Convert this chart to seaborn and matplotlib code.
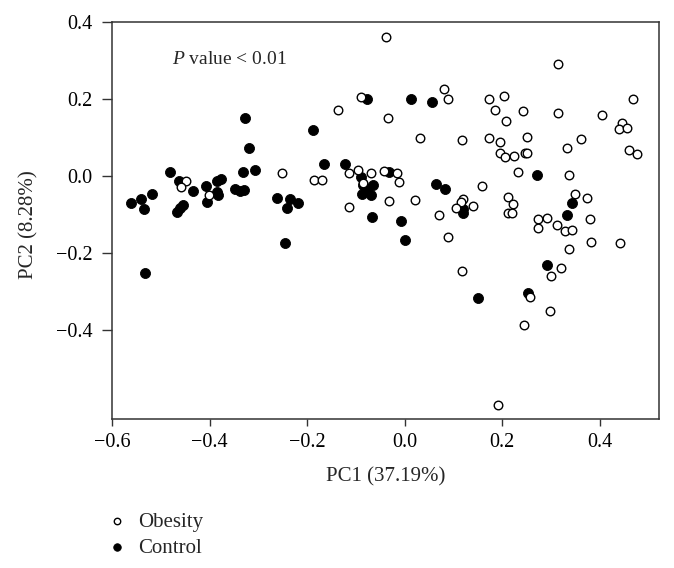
import matplotlib
matplotlib.use("Agg")
import matplotlib.pyplot as plt
import pandas as pd
import seaborn as sns

# ---- data ----
groups = ["Obesity", "Control"]

obesity_pc1 = [-0.038, -0.137, -0.090, -0.034, 0.031, 0.081, 0.089, -0.449, -0.458, -0.402,
               -0.252, -0.185, -0.169, -0.114, -0.095, -0.070, -0.086, -0.042, -0.016, -0.011,
               -0.032, 0.021, -0.115, 0.071, 0.088, 0.158, 0.120, 0.115, 0.106, 0.141,
               0.232, 0.212, 0.223, 0.212, 0.221, 0.274, 0.292, 0.274, 0.313, 0.329,
               0.342, 0.349, 0.373, 0.337, 0.380, 0.382, 0.441, 0.336, 0.320, 0.300,
               0.117, 0.256, 0.298, 0.245, 0.191, 0.315, 0.173, 0.204, 0.185, 0.242,
               0.208, 0.314, 0.404, 0.468, 0.445, 0.440, 0.455, 0.118, 0.173, 0.196,
               0.251, 0.362, 0.332, 0.195, 0.206, 0.224, 0.247, 0.251, 0.460, 0.476]
obesity_pc2 = [0.360, 0.170, 0.204, 0.150, 0.097, 0.224, 0.198, -0.014, -0.029, -0.050,
               0.007, -0.011, -0.011, 0.008, 0.014, 0.008, -0.019, 0.012, 0.008, -0.016,
               -0.066, -0.062, -0.080, -0.102, -0.158, -0.026, -0.059, -0.067, -0.083, -0.078,
               0.010, -0.054, -0.072, -0.095, -0.095, -0.113, -0.109, -0.134, -0.128, -0.142,
               -0.141, -0.047, -0.057, 0.002, -0.113, -0.172, -0.173, -0.189, -0.239, -0.259,
               -0.246, -0.314, -0.350, -0.387, -0.593, 0.289, 0.198, 0.208, 0.170, 0.168,
               0.142, 0.163, 0.159, 0.199, 0.136, 0.122, 0.125, 0.094, 0.099, 0.088,
               0.101, 0.096, 0.072, 0.059, 0.049, 0.052, 0.060, 0.060, 0.067, 0.057]

control_pc1 = [-0.327, -0.320, -0.561, -0.541, -0.535, -0.518, -0.532, -0.482, -0.462, -0.433,
               -0.466, -0.461, -0.455, -0.408, -0.405, -0.385, -0.383, -0.384, -0.376, -0.348,
               -0.337, -0.330, -0.332, -0.307, -0.262, -0.235, -0.218, -0.242, -0.245, -0.187,
               -0.165, -0.122, -0.078, 0.012, 0.057, -0.090, -0.085, -0.064, -0.088, -0.070,
               -0.078, -0.032, -0.068, -0.008, 0.001, 0.064, 0.082, 0.119, 0.120, 0.272,
               0.344, 0.333, 0.291, 0.253, 0.150]
control_pc2 = [0.149, 0.072, -0.071, -0.059, -0.085, -0.046, -0.252, 0.010, -0.013, -0.039,
               -0.093, -0.084, -0.076, -0.027, -0.067, -0.041, -0.050, -0.013, -0.008, -0.033,
               -0.038, -0.036, 0.010, 0.014, -0.056, -0.059, -0.071, -0.084, -0.173, 0.118,
               0.030, 0.032, 0.198, 0.200, 0.192, -0.003, -0.024, -0.024, -0.048, -0.049,
               -0.033, 0.011, -0.106, -0.118, -0.166, -0.020, -0.034, -0.087, -0.096, 0.003,
               -0.070, -0.102, -0.231, -0.304, -0.316]

x_ticks = [-0.6, -0.4, -0.2, 0.0, 0.2, 0.4]
y_ticks = [-0.4, -0.2, 0.0, 0.2, 0.4]
x_label = "PC1 (37.19%)"
y_label = "PC2 (8.28%)"
annotation = r"$\mathit{P}$ value < 0.01"

# ---- style ----
sns.set_style("ticks")
plt.rcParams["font.family"] = ["Liberation Serif", "DejaVu Serif"]
plt.rcParams["mathtext.fontset"] = "custom"
plt.rcParams["mathtext.it"] = "Liberation Serif:italic"
plt.rcParams["mathtext.rm"] = "Liberation Serif"
plt.rcParams["axes.unicode_minus"] = True

df = pd.concat([
    pd.DataFrame({"PC1": obesity_pc1, "PC2": obesity_pc2, "group": groups[0]}),
    pd.DataFrame({"PC1": control_pc1, "PC2": control_pc2, "group": groups[1]}),
], ignore_index=True)

fig = plt.figure(figsize=(6.74, 5.68), dpi=100)
ax = fig.add_axes([0.1662, 0.2623, 0.812, 0.6998])

spine_col = "#333333"

sns.scatterplot(data=df[df.group == "Control"], x="PC1", y="PC2", ax=ax,
                marker="o", s=52, color="black", edgecolor="black",
                linewidth=0.6, label="Control", zorder=2)
sns.scatterplot(data=df[df.group == "Obesity"], x="PC1", y="PC2", ax=ax,
                marker="o", s=38, color="white", edgecolor="black",
                linewidth=1.0, label="Obesity", zorder=3)
ax.collections[1].set_facecolor("white")
ax.collections[1].set_edgecolor("black")

ax.set_xlim(-0.6, 0.522)
ax.set_ylim(-0.63, 0.398)
ax.set_xticks(x_ticks)
ax.set_yticks(y_ticks)
ax.set_xticklabels([f"{v:.1f}".replace("-", "\u2212") for v in x_ticks])
ax.set_yticklabels([f"{v:.1f}".replace("-", "\u2212") for v in y_ticks])

for sp in ax.spines.values():
    sp.set_visible(True)
    sp.set_color(spine_col)
    sp.set_linewidth(1.1)

ax.tick_params(axis="x", direction="out", length=5, width=1.0, color=spine_col,
               labelsize=14.5, pad=5, labelcolor="black")
ax.tick_params(axis="y", direction="out", length=7, width=1.0, color=spine_col,
               labelsize=14.5, pad=7, labelcolor="black")

ax.set_xlabel(x_label, fontsize=15)
ax.set_ylabel(y_label, fontsize=15)
ax.xaxis.set_label_coords(0.5, -0.122)
ax.yaxis.set_label_coords(-0.135, 0.49)

ax.text(-0.478, 0.302, annotation, fontsize=14, ha="left", va="center")

handles, labels = ax.get_legend_handles_labels()
order = [labels.index(g) for g in groups]
ax.legend([handles[i] for i in order], [labels[i] for i in order],
          loc="upper left", bbox_to_anchor=(0.146, 0.113), bbox_transform=fig.transFigure,
          frameon=False, fontsize=15, handlelength=1.0, handletextpad=0.5,
          markerscale=0.75, borderaxespad=0, labelspacing=0.3)

fig.savefig("out.png", dpi=100)
